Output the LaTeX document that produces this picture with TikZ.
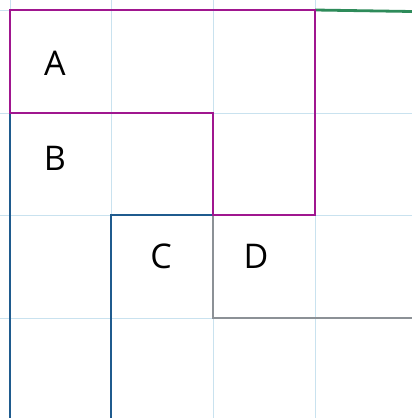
\documentclass[tikz,border=0pt]{standalone}
\usepackage{fontspec}
\setmainfont{Open Sans}
\begin{document}
\begin{tikzpicture}[x=1pt,y=-1pt,
  gridline/.style={draw=gridblue,line width=0.9pt},
  region/.style={line width=2.8pt,line join=miter},
  lab/.style={font=\fontsize{34}{34}\selectfont,inner sep=0pt}]
\definecolor{gridblue}{HTML}{C9E2EF}
\definecolor{rpurple}{HTML}{A0168F}
\definecolor{rblue}{HTML}{1F5B8E}
\definecolor{rgreen}{HTML}{2E8B5A}
\definecolor{rgray}{HTML}{8C9196}
\useasboundingbox (0,0) rectangle (412,418);
\fill[white] (0,0) rectangle (412,418);
% grid
\foreach \x in {10,111,213,315} \draw[gridline] (\x,0) -- (\x,418);
\foreach \y in {10,113,215,318} \draw[gridline] (0,\y) -- (412,\y);
% coordinates
\coordinate (p1) at (10,418);
\coordinate (p2) at (10,113);
\coordinate (p3) at (213,113);
\coordinate (p4) at (213,215);
\coordinate (p5) at (111,215);
\coordinate (p6) at (111,418);
\coordinate (q1) at (10,10);
\coordinate (q2) at (315,10);
\coordinate (q3) at (315,215);
\coordinate (g1) at (412,11.5);
\coordinate (d1) at (213,318);
\coordinate (d2) at (412,318);
% regions
\draw[region,rblue] (p1) -- (p2) -- (p3) -- (p4) -- (p5) -- (p6);
\draw[region,rgray] (p4) -- (d1) -- (d2);
\draw[region,rgreen] (q2) -- (g1);
\draw[region,rpurple] (p2) -- (q1) -- (q2) -- (q3) -- (p4) -- (p3) -- cycle;
% labels
\node[lab] (A) at (55,63) {A};
\node[lab] (B) at (55,158) {B};
\node[lab] (C) at (161,256) {C};
\node[lab] (D) at (256,256) {D};
\end{tikzpicture}
\end{document}
